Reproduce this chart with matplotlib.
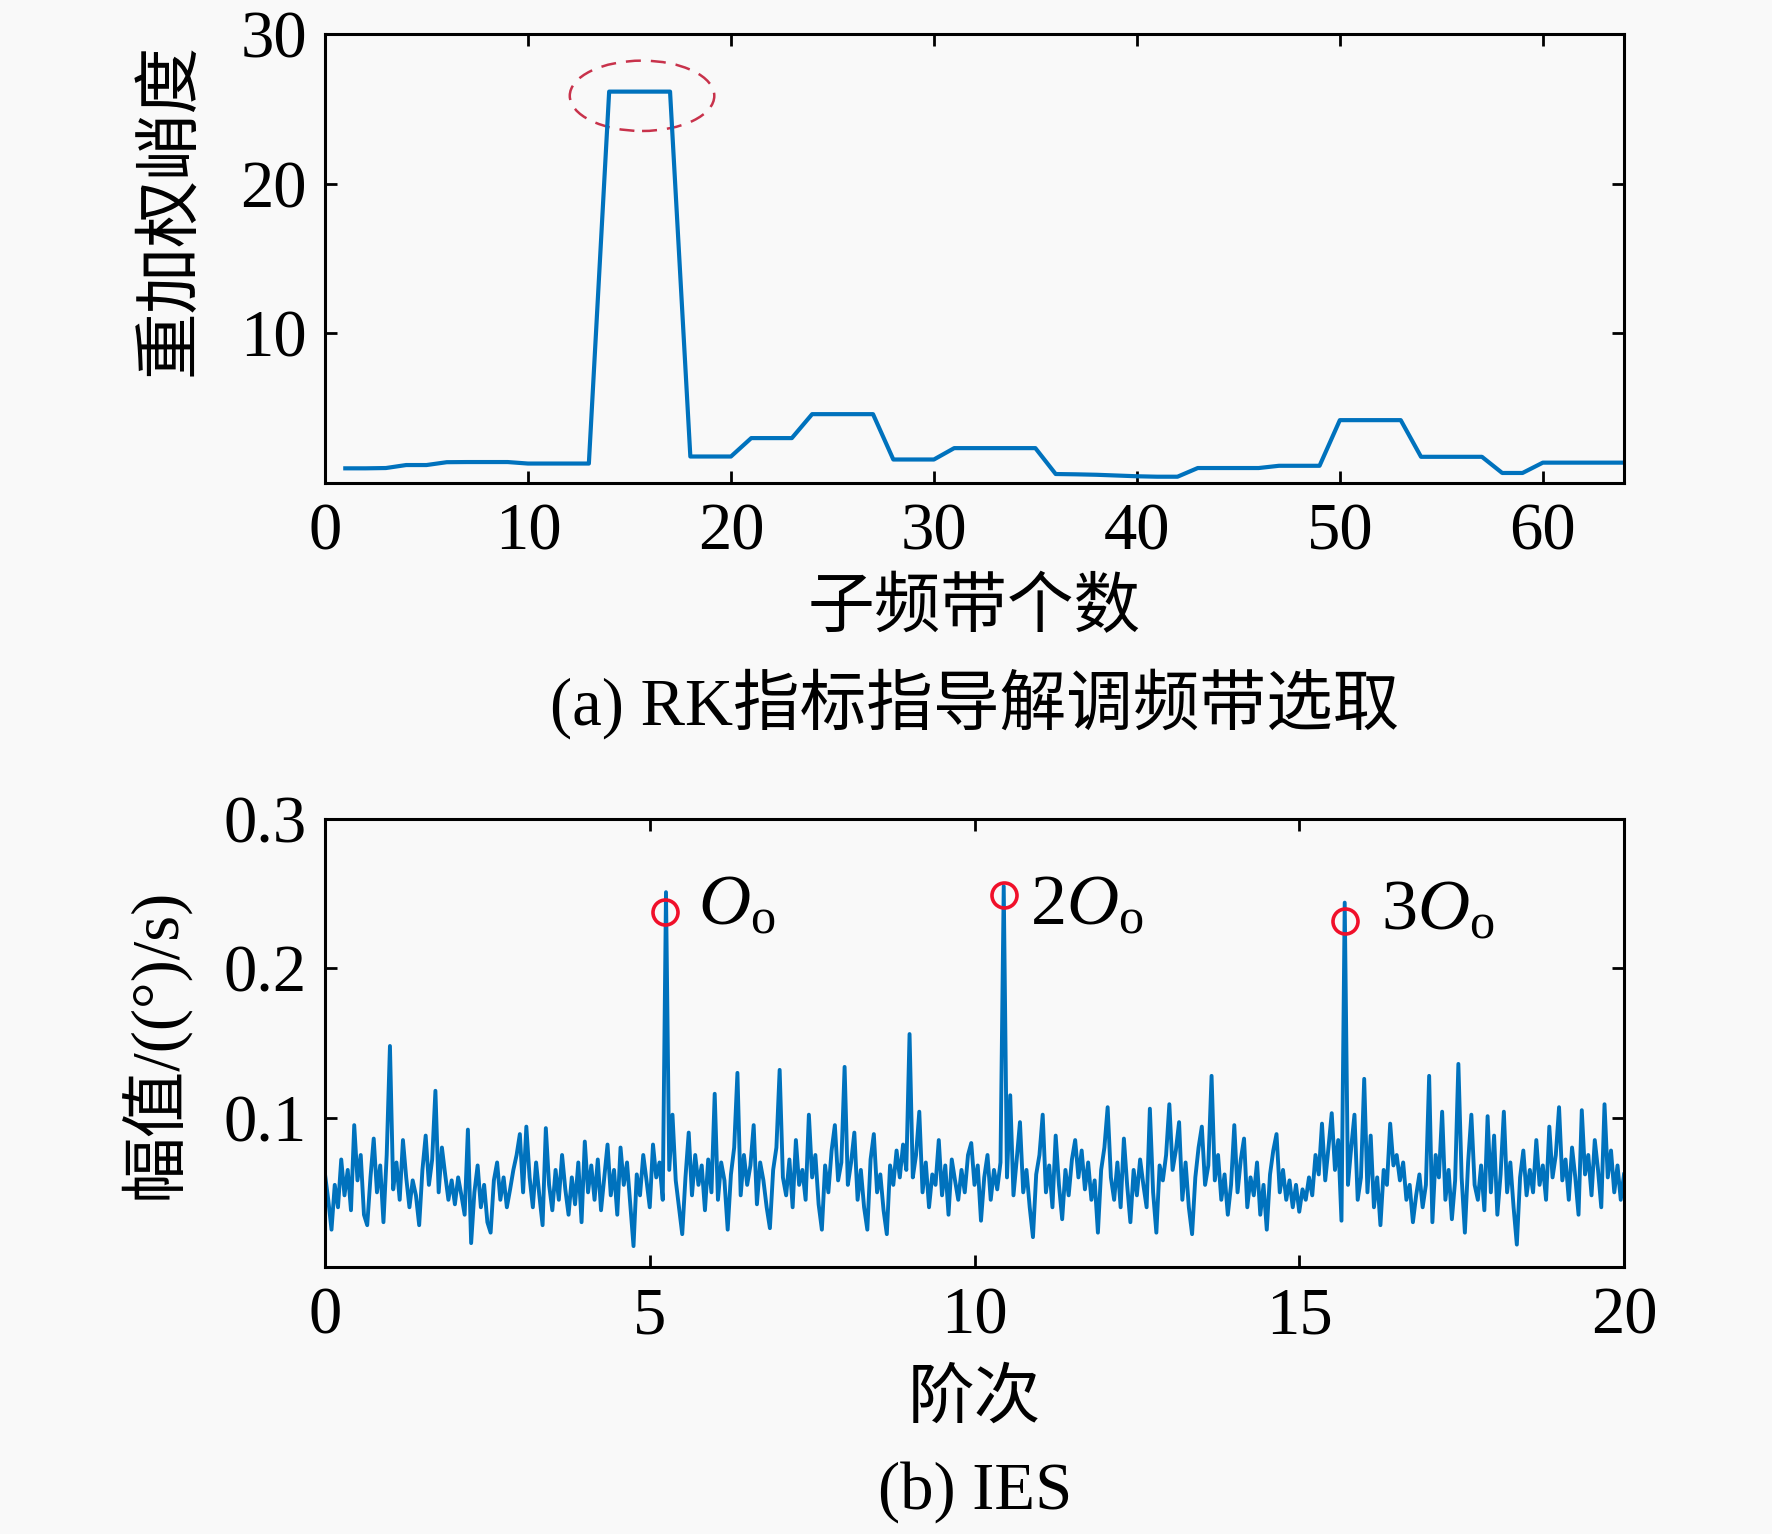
import numpy as np
import matplotlib
matplotlib.use("Agg")
import matplotlib.pyplot as plt
from matplotlib.patches import Ellipse

plt.rcParams['font.family'] = ['Liberation Serif', 'Noto Sans CJK SC']
plt.rcParams['mathtext.fontset'] = 'custom'
plt.rcParams['mathtext.rm'] = 'Liberation Serif'
plt.rcParams['mathtext.it'] = 'Liberation Serif:italic'

# (a) weighted kurtosis per sub-band
band_idx = list(range(1, 65))
rk_values = [
    0.98, 0.98, 1.0, 1.2, 1.2, 1.39, 1.4, 1.4, 1.4, 1.3,
    1.3, 1.3, 1.3, 26.15, 26.15, 26.15, 26.15, 1.77, 1.77, 1.77,
    3.0, 3.0, 3.0, 4.6, 4.6, 4.6, 4.6, 1.57, 1.57, 1.57,
    2.33, 2.33, 2.33, 2.33, 2.33, 0.6, 0.58, 0.55, 0.5, 0.45,
    0.42, 0.42, 1.0, 1.0, 1.0, 1.0, 1.15, 1.15, 1.15, 4.2,
    4.2, 4.2, 4.2, 1.75, 1.75, 1.75, 1.75, 0.67, 0.67, 1.36,
    1.36, 1.36, 1.36, 1.36,
]

# (b) IES amplitude, one row per order unit (step 0.05)
ies_values = [
    0.062, 0.045, 0.025, 0.055, 0.040, 0.072, 0.048, 0.065, 0.038, 0.095,
    0.058, 0.075, 0.035, 0.028, 0.060, 0.086, 0.050, 0.068, 0.030, 0.075,
    0.148, 0.052, 0.070, 0.045, 0.085, 0.060, 0.040, 0.058, 0.048, 0.028,
    0.065, 0.088, 0.055, 0.072, 0.118, 0.050, 0.080, 0.062, 0.045, 0.058,
    0.042, 0.060, 0.048, 0.035, 0.092, 0.016, 0.050, 0.068, 0.040, 0.055,
    0.030, 0.023, 0.058, 0.070, 0.045, 0.060, 0.040, 0.052, 0.065, 0.075,
    0.089, 0.050, 0.094, 0.060, 0.040, 0.070, 0.048, 0.028, 0.093, 0.055,
    0.038, 0.065, 0.045, 0.075, 0.052, 0.035, 0.060, 0.042, 0.070, 0.030,
    0.084, 0.050, 0.068, 0.045, 0.072, 0.038, 0.060, 0.082, 0.048, 0.065,
    0.035, 0.080, 0.055, 0.070, 0.042, 0.014, 0.062, 0.048, 0.075, 0.058,
    0.040, 0.082, 0.060, 0.070, 0.045, 0.251, 0.065, 0.102, 0.058, 0.040,
    0.022, 0.060, 0.090, 0.048, 0.075, 0.055, 0.068, 0.038, 0.072, 0.050,
    0.116, 0.045, 0.070, 0.058, 0.025, 0.062, 0.080, 0.130, 0.048, 0.075,
    0.055, 0.068, 0.095, 0.042, 0.070, 0.058, 0.040, 0.026, 0.065, 0.080,
    0.132, 0.060, 0.048, 0.072, 0.040, 0.085, 0.055, 0.065, 0.045, 0.102,
    0.060, 0.075, 0.042, 0.025, 0.068, 0.050, 0.078, 0.095, 0.058, 0.070,
    0.134, 0.055, 0.070, 0.090, 0.045, 0.065, 0.040, 0.025, 0.072, 0.089,
    0.050, 0.062, 0.038, 0.022, 0.068, 0.055, 0.078, 0.060, 0.082, 0.065,
    0.156, 0.060, 0.075, 0.104, 0.050, 0.070, 0.040, 0.062, 0.055, 0.085,
    0.048, 0.068, 0.035, 0.072, 0.058, 0.045, 0.065, 0.050, 0.075, 0.083,
    0.055, 0.068, 0.031, 0.060, 0.075, 0.045, 0.065, 0.052, 0.070, 0.255,
    0.060, 0.115, 0.048, 0.072, 0.097, 0.050, 0.065, 0.040, 0.020, 0.062,
    0.075, 0.102, 0.050, 0.068, 0.040, 0.088, 0.055, 0.032, 0.065, 0.048,
    0.072, 0.085, 0.060, 0.078, 0.052, 0.070, 0.045, 0.058, 0.023, 0.065,
    0.080, 0.107, 0.060, 0.045, 0.070, 0.040, 0.086, 0.055, 0.030, 0.065,
    0.048, 0.072, 0.055, 0.040, 0.106, 0.050, 0.023, 0.068, 0.058, 0.075,
    0.109, 0.065, 0.078, 0.097, 0.045, 0.070, 0.040, 0.022, 0.060, 0.080,
    0.094, 0.055, 0.068, 0.128, 0.058, 0.075, 0.045, 0.062, 0.035, 0.055,
    0.095, 0.050, 0.072, 0.086, 0.040, 0.060, 0.048, 0.070, 0.035, 0.055,
    0.025, 0.062, 0.078, 0.089, 0.050, 0.065, 0.045, 0.058, 0.040, 0.055,
    0.037, 0.052, 0.045, 0.060, 0.048, 0.075, 0.062, 0.096, 0.058, 0.080,
    0.103, 0.065, 0.085, 0.031, 0.244, 0.055, 0.080, 0.102, 0.045, 0.060,
    0.126, 0.050, 0.088, 0.040, 0.060, 0.028, 0.065, 0.055, 0.096, 0.068,
    0.075, 0.058, 0.070, 0.045, 0.055, 0.030, 0.048, 0.062, 0.040, 0.055,
    0.128, 0.030, 0.075, 0.060, 0.104, 0.045, 0.065, 0.032, 0.058, 0.136,
    0.060, 0.023, 0.070, 0.102, 0.055, 0.045, 0.068, 0.038, 0.101, 0.050,
    0.088, 0.035, 0.062, 0.104, 0.050, 0.070, 0.040, 0.015, 0.060, 0.078,
    0.048, 0.065, 0.050, 0.085, 0.055, 0.068, 0.045, 0.094, 0.060, 0.075,
    0.107, 0.058, 0.072, 0.045, 0.080, 0.060, 0.035, 0.105, 0.062, 0.075,
    0.048, 0.085, 0.065, 0.040, 0.109, 0.060, 0.078, 0.050, 0.068, 0.045,
    0.062,
]
ies_order = np.linspace(0, 20, len(ies_values))

# marked harmonics
peak_x = [5.24, 10.45, 15.70]
peak_y = [0.238, 0.249, 0.232]
peak_labels = [r'$O_\mathrm{o}$', r'$2O_\mathrm{o}$', r'$3O_\mathrm{o}$']
label_x = [5.74, 10.86, 16.26]
label_y = [0.229, 0.229, 0.226]

LINE = '#0072BD'
FS = 48
W, H = 1772, 1534

fig = plt.figure(figsize=(W / 100, H / 100), dpi=100)
fig.patch.set_facecolor('#f9f9f9')


def style_axes(ax):
    ax.set_facecolor('#f9f9f9')
    for s in ax.spines.values():
        s.set_linewidth(2.2)
    ax.tick_params(direction='in', length=8.5, width=2.0, top=True, right=True,
                   labelsize=FS)
    ax.tick_params(axis='x', pad=14)
    ax.tick_params(axis='y', pad=13)


ax1 = fig.add_axes([325 / W, 1 - 483 / H, 1299 / W, 449 / H])
ax1.plot(band_idx, rk_values, color=LINE, lw=3.0)
ax1.add_patch(Ellipse((15.62, 25.87), 7.12, 4.7, fill=False, ls=(0, (6, 4)),
                      lw=1.8, edgecolor='#C8324B'))
ax1.set_xlim(0, 64)
ax1.set_ylim(0, 30)
ax1.set_xticks([0, 10, 20, 30, 40, 50, 60])
ax1.set_yticks([10, 20, 30])
style_axes(ax1)
ax1.set_xlabel('子频带个数', fontsize=FS, va='center')
ax1.xaxis.set_label_coords(0.5, -0.283)
ax1.set_ylabel('重加权峭度', fontsize=FS, va='center')
ax1.yaxis.set_label_coords(-0.118, 0.61)

ax2 = fig.add_axes([325 / W, 1 - 1267 / H, 1299 / W, 448 / H])
ax2.plot(ies_order, ies_values, color=LINE, lw=2.8)
ax2.plot(peak_x, peak_y, 'o', ms=18, mfc='none', mec='#F0102A', mew=2.6)
for lx, ly, t in zip(label_x, label_y, peak_labels):
    ax2.text(lx, ly, t, fontsize=FS + 4, va='baseline', ha='left')
ax2.set_xlim(0, 20)
ax2.set_ylim(0, 0.3)
ax2.set_xticks([0, 5, 10, 15, 20])
ax2.set_yticks([0.1, 0.2, 0.3])
style_axes(ax2)
ax2.set_xlabel('阶次', fontsize=FS, va='center')
ax2.xaxis.set_label_coords(0.5, -0.299)
ax2.set_ylabel('幅值/((°)/s)', fontsize=FS, va='center')
ax2.yaxis.set_label_coords(-0.132, 0.5)

fig.text(975 / W, 1 - 704 / H, '(a) RK指标指导解调频带选取', fontsize=FS,
         ha='center', va='center')
fig.text(975 / W, 1 - 1492 / H, '(b) IES', fontsize=FS, ha='center', va='center')

fig.savefig('out.png', dpi=100, facecolor=fig.get_facecolor())
